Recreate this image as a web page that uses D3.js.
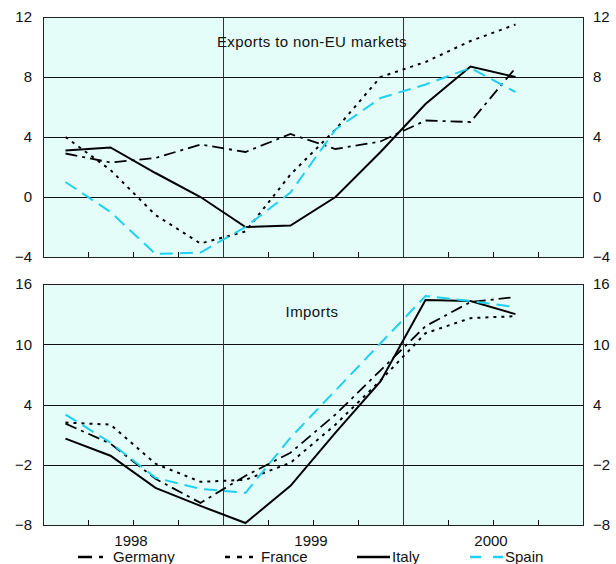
<!DOCTYPE html>
<html>
<head>
<meta charset="utf-8">
<script src="https://cdn.jsdelivr.net/npm/d3@7"></script>
<style>
  body { margin: 0; background: #fff; }
  svg { display: block; }
  text { font-family: "Liberation Sans", Arial, sans-serif; fill: #111; }
</style>
</head>
<body>
<svg id="chart" width="616" height="564"></svg>
<script>
// ---- data (quarterly, Q1 1998 .. Q3 2000) ----
const quarters = ["1998Q1","1998Q2","1998Q3","1998Q4","1999Q1","1999Q2","1999Q3","1999Q4","2000Q1","2000Q2","2000Q3"];
const years = ["1998", "1999", "2000"];
const countries = ["Germany", "France", "Italy", "Spain"];

const exportsGermany = [2.9, 2.3, 2.6, 3.5, 3.0, 4.2, 3.2, 3.7, 5.1, 5.0, 8.6];
const exportsFrance  = [4.0, 1.8, -1.2, -3.1, -2.3, 1.5, 4.5, 8.0, 9.0, 10.4, 11.5];
const exportsItaly   = [3.1, 3.3, 1.6, 0.0, -2.0, -1.9, 0.0, 3.0, 6.2, 8.7, 8.0];
const exportsSpain   = [1.0, -1.0, -3.8, -3.7, -2.0, 0.3, 4.5, 6.6, 7.5, 8.6, 7.0];

const importsGermany = [2.1, 0.1, -3.4, -5.8, -3.1, -0.8, 3.0, 7.4, 11.8, 14.2, 14.7];
const importsFrance  = [2.2, 2.0, -1.9, -3.7, -3.5, -1.8, 2.0, 6.4, 11.1, 12.6, 12.8];
const importsItaly   = [0.6, -1.1, -4.3, -6.1, -7.8, -4.1, 1.2, 6.3, 14.4, 14.3, 13.0];
const importsSpain   = [3.0, 0.2, -3.3, -4.4, -4.8, 0.7, 5.4, 10.1, 14.8, 14.3, 13.7];

const exportTicks = [-4, 0, 4, 8, 12];
const importTicks = [-8, -2, 4, 10, 16];

const panels = [
  { title: "Exports to non-EU markets", domain: [-4, 12], ticks: exportTicks, top: 17, bottom: 257,
    series: [exportsGermany, exportsFrance, exportsItaly, exportsSpain], titleY: 47 },
  { title: "Imports", domain: [-8, 16], ticks: importTicks, top: 284, bottom: 525,
    series: [importsGermany, importsFrance, importsItaly, importsSpain], titleY: 317 }
];

// ---- styles ----
const styles = {
  Germany: { color: "#000", dash: "12,5,3,5", width: 1.8 },
  France:  { color: "#000", dash: "3,5", width: 2 },
  Italy:   { color: "#000", dash: null, width: 2 },
  Spain:   { color: "#1ed0f2", dash: "13,7", width: 2 }
};

const svg = d3.select("#chart");
const left = 43, right = 583;
const x = d3.scaleLinear().domain([0, 12]).range([left, right]);

panels.forEach(p => {
  const y = d3.scaleLinear().domain(p.domain).range([p.bottom, p.top]);
  const g = svg.append("g");

  g.append("rect")
    .attr("x", left).attr("y", p.top)
    .attr("width", right - left).attr("height", p.bottom - p.top)
    .attr("fill", "#e4fdf9");

  // horizontal gridlines
  g.selectAll(".hg").data(p.ticks).enter().append("line")
    .attr("x1", left).attr("x2", right)
    .attr("y1", d => Math.round(y(d)) + 0.5).attr("y2", d => Math.round(y(d)) + 0.5)
    .attr("stroke", "#111").attr("stroke-width", 1);

  // vertical year separators
  g.selectAll(".vg").data([4, 8]).enter().append("line")
    .attr("x1", d => Math.round(x(d)) + 0.5).attr("x2", d => Math.round(x(d)) + 0.5)
    .attr("y1", p.top).attr("y2", p.bottom)
    .attr("stroke", "#333").attr("stroke-width", 1);

  // quarter ticks at bottom
  const qt = d3.range(1, 12).filter(d => d % 4 !== 0);
  g.selectAll(".qt").data(qt).enter().append("line")
    .attr("x1", d => Math.round(x(d)) + 0.5).attr("x2", d => Math.round(x(d)) + 0.5)
    .attr("y1", p.bottom).attr("y2", p.bottom - 5)
    .attr("stroke", "#111").attr("stroke-width", 1);

  // frame
  g.append("rect")
    .attr("x", left + 0.5).attr("y", Math.round(p.top) + 0.5)
    .attr("width", right - left).attr("height", Math.round(p.bottom - p.top))
    .attr("fill", "none").attr("stroke", "#222").attr("stroke-width", 1);

  // axes labels (left and right)
  const axL = d3.axisLeft(y).tickValues(p.ticks).tickSize(0).tickPadding(11);
  const axR = d3.axisRight(y).tickValues(p.ticks).tickSize(0).tickPadding(10);
  const gl = g.append("g").attr("transform", `translate(${left},0)`).call(axL);
  const gr = g.append("g").attr("transform", `translate(${right},0)`).call(axR);
  [gl, gr].forEach(a => {
    a.select(".domain").remove();
    a.selectAll("text").style("font-size", "15px").style("font-family", '"Liberation Sans", Arial, sans-serif').attr("fill", "#111");
  });

  // lines
  const line = d3.line().x((d, i) => x(i + 0.5)).y(d => y(d));
  countries.forEach((c, k) => {
    const s = styles[c];
    g.append("path")
      .datum(p.series[k])
      .attr("d", line)
      .attr("fill", "none")
      .attr("stroke", s.color)
      .attr("stroke-width", s.width)
      .attr("stroke-dasharray", s.dash)
      .attr("stroke-linejoin", "miter");
  });

  g.append("text")
    .attr("x", 312).attr("y", p.titleY)
    .attr("text-anchor", "middle")
    .style("font-size", "15px").style("letter-spacing", "0.4px")
    .text(p.title);
});

// year labels
svg.selectAll(".yr").data(years).enter().append("text")
  .attr("x", (d, i) => x(2 + 4 * i) - 2)
  .attr("y", 546)
  .attr("text-anchor", "middle")
  .style("font-size", "15px")
  .text(d => d);

// legend
const legendPos = [
  { x1: 78, x2: 103, tx: 113 },
  { x1: 225, x2: 253, tx: 261 },
  { x1: 357, x2: 390, tx: 392 },
  { x1: 470, x2: 503, tx: 505 }
];
const legendDash = { Germany: "14,7,4,100", France: "5,7", Italy: null, Spain: "11,12" };
countries.forEach((c, k) => {
  const lp = legendPos[k];
  svg.append("line")
    .attr("x1", lp.x1).attr("x2", lp.x2).attr("y1", 557).attr("y2", 557)
    .attr("stroke", styles[c].color).attr("stroke-width", 2.5)
    .attr("stroke-dasharray", legendDash[c]);
  svg.append("text")
    .attr("x", lp.tx).attr("y", 562)
    .style("font-size", "15px")
    .text(c);
});
</script>
</body>
</html>
